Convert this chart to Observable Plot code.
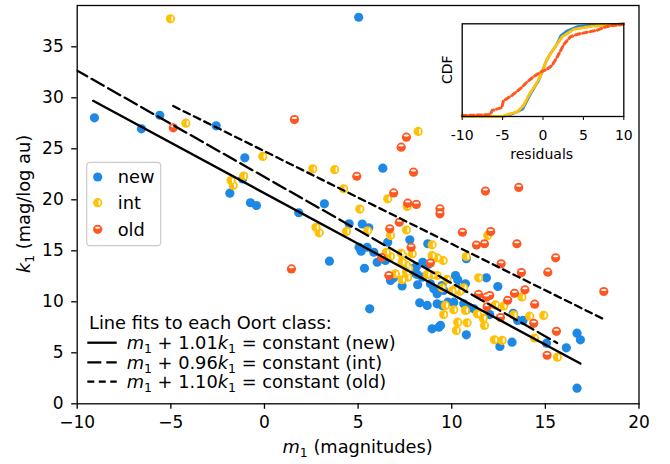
<!DOCTYPE html>
<html><head><meta charset="utf-8">
<script src="https://cdn.jsdelivr.net/npm/d3@7"></script>
<script src="https://cdn.jsdelivr.net/npm/@observablehq/plot@0.6"></script>
<style>
body{margin:0;background:#fff;}
#wrap{position:relative;width:670px;height:464px;font-family:"DejaVu Sans",sans-serif;}
#inset{position:absolute;left:430px;top:0px;}
svg text{white-space:pre;}
</style></head><body><div id="wrap"><div id="main"></div><div id="inset"></div></div>
<script>
// ---- data (m1, k1) per Oort class ----
const newM = [-9.08,-6.57,-5.59,-2.58,5.03,-1.05,-1.17,-1.85,-0.75,-0.43,3.2,1.83,3.47,6.32,4.52,5.22,5.57,5.05,5.16,5.48,5.84,6.02,5.34,5.62,7.76,6.58,6.46,6.73,6.9,7.35,8.06,8.15,8.42,8.18,7.88,8.12,8.72,8.45,8.74,8.86,9.04,9.22,9.48,9.57,8.29,8.69,9.22,9.49,8.95,9.31,10.2,10.32,10.78,11.85,12.46,9.79,10.11,10.64,10.85,10.78,11.18,9.4,10.78,12.03,13.22,12.57,13.28,13.52,13.81,15.06,16.12,16.69,16.87,16.69,10.61,10.29,10.73];
const newK = [28.04,26.96,28.29,27.25,37.9,24.12,22.04,20.65,19.71,19.44,19.61,18.73,13.98,23.1,17.65,17.63,17.25,15.35,14.96,15.35,14.86,13.88,13.29,9.31,16.08,15.84,14.05,12.09,12.35,11.55,12.8,12.68,12.41,11.67,13.24,13.46,15.69,13.88,13.66,11.76,11.27,10.78,11.6,11.11,9.9,9.64,9.8,9.64,7.35,7.51,12.58,12.16,14.22,12.35,11.5,9.96,9.96,9.8,9.54,9.22,9.31,7.68,6.76,8.75,6.04,5.62,8.88,8.17,8.17,5.94,5.49,6.92,6.27,1.53,11.27,11.37,11.76];
const intM = [-5.02,-4.2,-0.09,2.58,3.75,4.23,5.09,-1.11,-1.78,-1.67,2.75,2.92,4.38,5.51,8.21,6.58,7.62,7.58,6.73,6.51,6.73,7.3,7.4,7.89,7.35,7.58,7.7,8.95,8.95,9.22,9.54,6.99,7.58,7.65,7.35,8.69,8.95,9.22,9.75,9.48,10.78,11.92,11.44,10.2,10.43,10.64,10.02,13.75,12.33,12.78,9.66,10.11,9.57,10.73,11.36,11.68,11.75,13.31,14.16,14.91,10.25,10.32,10.82,12.28,12.69,14.42,15.64];
const intK = [37.75,27.51,24.25,23.04,22.95,21.08,19.09,22.33,21.89,21.4,17.31,16.76,16.91,16.96,26.7,20.1,19.34,17.04,16.5,14.86,14.44,14.76,14.44,14.71,13.88,13.6,13.26,15.59,14.54,14.31,14.05,12.75,12.9,12.41,12.16,12.68,12.65,12.58,12.19,11.37,14.44,16.5,12.35,11.27,11.04,11.37,11.04,10.47,9.69,9.59,9.64,9.22,8.75,9.15,8.82,8.39,7.68,8.71,8.59,8.66,7.19,8.0,7.94,6.27,6.21,6.45,4.57];
const oldM = [-4.87,1.6,4.93,1.44,7.58,7.3,7.96,6.9,7.65,8.11,9.37,9.37,11.8,13.58,7.2,6.69,7.83,6.26,6.64,8.86,10.57,12.08,11.32,11.75,13.48,12.64,13.72,15.13,15.55,18.12,11.43,11.85,12.03,13.35,13.91,12.99,14.43,11.89,12.6,14.38,15.59,15.09];
const oldK = [27.06,27.87,22.31,13.22,26.14,25.16,22.71,20.67,19.67,19.55,19.12,18.63,20.86,21.21,17.8,17.16,15.35,14.34,12.58,13.8,16.82,16.89,15.57,15.69,15.69,13.73,12.87,12.9,14.31,11.01,10.72,10.45,10.62,10.84,11.18,10.15,9.77,9.51,8.46,7.89,7.11,4.76];

// ---- line fits: m1 + a*k1 = c ----
const fitLabels = ["new", "int", "old"];
const fitCoef = [1.01, 0.96, 1.10];
const fitConst = [20.85, 21.35, 27.24];
const fitMStart = [-9.15, -11, -4.87];
const fitMEnd = [16.87, 15.63, 18.12];

// ---- inset: CDF of residuals ----
const cdfNewX = [-10,-5,-4,-3.2,-2.5,-2.2,-1.75,-1.13,-0.52,-0.1,0.31,0.93,1.6,2.2,2.9,4.2,5.5,8,10];
const cdfNewY = [0,0,0.02,0.05,0.08,0.13,0.21,0.3,0.39,0.48,0.58,0.68,0.76,0.87,0.92,0.97,0.98,0.99,1];
const cdfIntX = [-10,-5,-4.4,-3.2,-2.4,-1.75,-1,-0.3,0.5,1.34,2.37,3.8,5.05,6.7,9.8,10];
const cdfIntY = [0,0,0.02,0.05,0.12,0.23,0.33,0.44,0.62,0.73,0.86,0.94,0.96,0.98,0.99,1];
const cdfOldX = [-10,-6.5,-6.3,-5.1,-4.9,-3.8,-2.8,-2,-1.3,-0.3,0.5,1.1,1.75,2.6,3.4,4.4,5.5,6.7,7.5,8.4,9.6,10];
const cdfOldY = [0.01,0.02,0.065,0.095,0.17,0.23,0.3,0.37,0.42,0.48,0.51,0.55,0.64,0.78,0.86,0.89,0.91,0.93,0.96,0.98,0.99,1];

// ---- ticks ----
const xTicks = [-10, -5, 0, 5, 10, 15, 20];
const yTicks = [0, 5, 10, 15, 20, 25, 30, 35];
const insetTicks = [-10, -5, 0, 5, 10];

// ---- styles ----
const colors = {new: "#1E88E5", int: "#FFC107", old: "#FF5722"};
const dashes = {new: null, int: "14,5", old: "7,4.5"};
const insetDashes = {new: null, int: "8,2.5", old: "4.5,3"};
const FONT = "DejaVu Sans";
const FS = 17.8;   // label / legend font size
const TFS = 17;    // tick font size

function ellipseSym(cx, cy, rx, ry) {
  const k = 0.5523;
  return {draw(ctx) {
    ctx.moveTo(cx + rx, cy);
    ctx.bezierCurveTo(cx + rx, cy + ry * k, cx + rx * k, cy + ry, cx, cy + ry);
    ctx.bezierCurveTo(cx - rx * k, cy + ry, cx - rx, cy + ry * k, cx - rx, cy);
    ctx.bezierCurveTo(cx - rx, cy - ry * k, cx - rx * k, cy - ry, cx, cy - ry);
    ctx.bezierCurveTo(cx + rx * k, cy - ry, cx + rx, cy - ry * k, cx + rx, cy);
    ctx.closePath();
  }};
}
const R = 4.6;
const hiSym = {int: ellipseSym(1.7, 0, 1.0, 2.6), old: ellipseSym(0, -1.6, 2.6, 1.0)};

const classes = [
  {name: "new", m: newM, k: newK},
  {name: "int", m: intM, k: intK},
  {name: "old", m: oldM, k: oldK}
];
const pts = classes.map(c => c.m.map((m, i) => ({m, k: c.k[i], cls: c.name})));
const fitLines = fitLabels.map((lab, i) => [fitMStart[i], fitMEnd[i]].map(m => ({m, k: (fitConst[i] - m) / fitCoef[i], cls: lab})));

const marks = [];
pts.forEach((arr, i) => {
  const name = classes[i].name;
  marks.push(Plot.dot(arr, {x: "m", y: "k", r: R, fill: colors[name], stroke: null}));
  if (hiSym[name]) marks.push(Plot.dot(arr, {x: "m", y: "k", r: R, fill: "white", symbol: hiSym[name]}));
});
fitLines.forEach((ln, i) => {
  const name = fitLabels[i];
  marks.push(Plot.line(ln, {x: "m", y: "k", stroke: "black", strokeWidth: 2.3, strokeDasharray: dashes[name], clip: true}));
});

const main = Plot.plot({
  width: 670, height: 464,
  marginLeft: 76.7, marginRight: 31.5, marginTop: 5, marginBottom: 60.7,
  style: {fontFamily: FONT, fontSize: TFS + "px", background: "white", overflow: "visible", color: "black"},
  x: {domain: [-10, 20]},
  y: {domain: [0, 39.05]},
  marks: [
    ...marks,
    Plot.frame({stroke: "black", strokeWidth: 1.3}),
    Plot.axisX({ticks: xTicks, tickSize: 5.5, tickPadding: 7, label: null, strokeWidth: 1.3}),
    Plot.axisY({ticks: yTicks, tickSize: 5.5, tickPadding: 8, label: null, strokeWidth: 1.3})
  ]
});
document.getElementById("main").appendChild(main);

// ---- annotations in main svg ----
const svg = d3.select(main);
function mathLabel(g, x, y, parts, size, anchor) {
  const t = g.append("text").attr("x", x).attr("y", y).attr("font-size", size).attr("font-family", FONT)
    .attr("fill", "black").attr("text-anchor", anchor || "start");
  let shift = 0;
  parts.forEach(p => {
    const ts = t.append("tspan").text(p.t);
    if (p.i) ts.attr("font-style", "italic");
    const target = p.sub ? size * 0.23 : 0;
    if (target !== shift) { ts.attr("dy", target - shift); shift = target; }
    if (p.sub) ts.attr("font-size", size * 0.7);
  });
  return t;
}
// axis labels
mathLabel(svg, 357.6, 453, [{t: "m", i: 1}, {t: "1", sub: 1}, {t: " (magnitudes)"}], FS, "middle");
const yl = svg.append("g").attr("transform", "translate(29.5,204) rotate(-90)");
mathLabel(yl, 0, 0, [{t: "k", i: 1}, {t: "1", sub: 1}, {t: " (mag/log au)"}], FS, "middle");

// scatter legend
const lg = svg.append("g");
lg.append("rect").attr("x", 86.7).attr("y", 162.3).attr("width", 74).attr("height", 83.4).attr("rx", 3.5)
  .attr("fill", "white").attr("fill-opacity", 0.8).attr("stroke", "#cccccc").attr("stroke-width", 1.2);
const legY = [177, 202.7, 229.3];
fitLabels.forEach((name, i) => {
  lg.append("circle").attr("cx", 97.7).attr("cy", legY[i]).attr("r", R).attr("fill", colors[name]);
  if (name === "int") lg.append("ellipse").attr("cx", 97.7 + 1.7).attr("cy", legY[i]).attr("rx", 1).attr("ry", 2.6).attr("fill", "white");
  if (name === "old") lg.append("ellipse").attr("cx", 97.7).attr("cy", legY[i] - 1.6).attr("rx", 2.6).attr("ry", 1).attr("fill", "white");
  lg.append("text").attr("x", 117.7).attr("y", legY[i] + 6.3).attr("font-size", FS).attr("font-family", FONT)
    .attr("text-anchor", "start").text(name);
});

// line-fit legend
const lf = svg.append("g");
lf.append("text").attr("x", 89).attr("y", 329.3).attr("font-size", FS).attr("font-family", FONT)
  .attr("text-anchor", "start").text("Line fits to each Oort class:");
const lfY = [342.7, 362.3, 381.7];
fitLabels.forEach((name, i) => {
  const l = lf.append("line").attr("x1", 87.3).attr("x2", 116.7).attr("y1", lfY[i]).attr("y2", lfY[i])
    .attr("stroke", "black").attr("stroke-width", 2.3);
  if (dashes[name]) l.attr("stroke-dasharray", dashes[name]);
  mathLabel(lf, 126.7, lfY[i] + 6.6, [
    {t: "m", i: 1}, {t: "1", sub: 1}, {t: " + " + fitCoef[i].toFixed(2)}, {t: "k", i: 1}, {t: "1", sub: 1},
    {t: " = constant (" + name + ")"}
  ], FS);
});

// ---- inset ----
const cdfs = [
  {name: "new", d: cdfNewX.map((x, i) => ({x, y: cdfNewY[i]}))},
  {name: "int", d: cdfIntX.map((x, i) => ({x, y: cdfIntY[i]}))},
  {name: "old", d: cdfOldX.map((x, i) => ({x, y: cdfOldY[i]}))}
];
const insetWidths = {new: 2.6, int: 3, old: 3};
const inset = Plot.plot({
  width: 210, height: 170,
  marginLeft: 31.7, marginRight: 16.7, marginTop: 23.3, marginBottom: 54,
  style: {fontFamily: FONT, fontSize: "14px", background: "transparent", overflow: "visible", color: "black"},
  x: {domain: [-10, 10]},
  y: {domain: [0, 1], axis: null},
  marks: [
    Plot.frame({fill: "white"}),
    ...cdfs.map(c => Plot.line(c.d, {x: "x", y: "y", stroke: colors[c.name],
      strokeWidth: insetWidths[c.name], strokeDasharray: insetDashes[c.name]})),
    Plot.frame({stroke: "black", strokeWidth: 1.3}),
    Plot.axisX({ticks: insetTicks, tickFormat: d => String(d), tickSize: 4, tickPadding: 10, label: null})
  ]
});
document.getElementById("inset").appendChild(inset);
const isvg = d3.select(inset);
isvg.append("text").attr("x", 111.7).attr("y", 159).attr("text-anchor", "middle").attr("font-size", 14).attr("font-family", FONT).text("residuals");
isvg.append("text").attr("transform", "translate(21.5,69.7) rotate(-90)").attr("text-anchor", "middle").attr("font-size", 14).attr("font-family", FONT).text("CDF");
</script></body></html>
